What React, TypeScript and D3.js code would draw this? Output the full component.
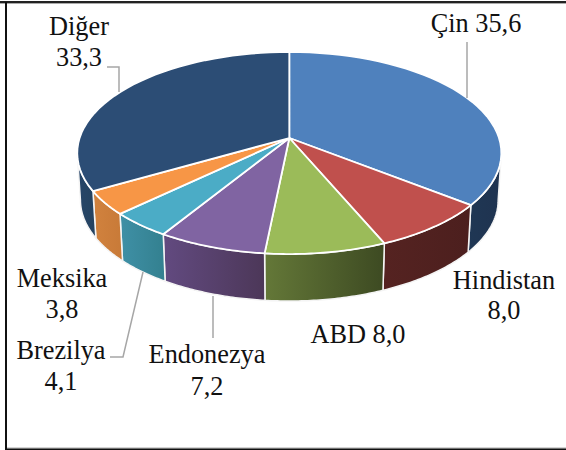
import React from "react";
import * as d3 from "d3";

const names = ["Çin", "Hindistan", "ABD", "Endonezya", "Brezilya", "Meksika", "Diğer"];
const values = [35.6, 8.0, 8.0, 7.2, 4.1, 3.8, 33.3];
const valueLabels = ["35,6", "8,0", "8,0", "7,2", "4,1", "3,8", "33,3"];
const topColors = ["#4f81bd", "#c0504d", "#9bbb59", "#8064a2", "#4bacc6", "#f79646", "#2c4d75"];
const wallFrom = ["#1f3754", "#552321", "#647838", "#624a80", "#3f90a6", "#d1823e", "#274669"];
const wallTo = ["#1f3350", "#4c1f1e", "#3d4a22", "#4c3758", "#33808f", "#c87a38", "#24425f"];

// label layout: centre x, baseline ys
const labelLayout = [
  { x: 476, ys: [32], oneLine: true },
  { x: 504, ys: [289, 319], oneLine: false },
  { x: 358, ys: [343], oneLine: true },
  { x: 207, ys: [363, 395], oneLine: false },
  { x: 61, ys: [359, 390], oneLine: false },
  { x: 62, ys: [287, 318], oneLine: false },
  { x: 79, ys: [35, 66], oneLine: false },
];
const leaders = [
  [[467, 42], [467, 98]],
  [[213, 296], [213, 338]],
  [[110, 357], [123, 357], [143, 272]],
  [[107, 67], [119, 67], [119, 92]],
];

const cx = 289.3, cy = 138, A = 209.7, B = 98.8, k = 0.1486, depth = 47, shrink = 0.985;
const tangent = Math.acos(-k);

const proj = (a: number, r = 1): [number, number] => {
  const u = r * Math.sin(a), v = -r * Math.cos(a), d = 1 - k * v;
  return [cx + (A * u) / d, cy + (B * v) / d];
};
const low = (p: [number, number]): [number, number] => [cx + (p[0] - cx) * shrink, p[1] + depth];
const samples = (a0: number, a1: number) => d3.range(0, 41).map((i) => a0 + ((a1 - a0) * i) / 40);
const line = d3.line();

export default function App() {
  const arcs = d3.pie<number>().sort(null)(values);
  return (
    <svg width={566} height={450} style={{ position: "fixed", left: 0, top: 0, background: "#fff" }}
      fontFamily="'Liberation Serif', serif" fontSize={26.3} fill="#111">
      <defs>
        {arcs.map((_, i) => (
          <linearGradient key={i} id={`w${i}`} x1="0" x2="1" y1="0" y2="0">
            <stop offset="0" stopColor={wallFrom[i]} />
            <stop offset="1" stopColor={wallTo[i]} />
          </linearGradient>
        ))}
      </defs>
      <path d="M0 2H566" stroke="#222" strokeWidth={2} fill="none" />
      <path d="M0 3.5H566" stroke="#aaa" strokeWidth={1} fill="none" />
      <path d="M6 2V450" stroke="#111" strokeWidth={2} fill="none" />
      <path d="M7 448H566" stroke="#aaa" strokeWidth={1} fill="none" />
      <path d="M5 449.3H566" stroke="#111" strokeWidth={1.5} fill="none" />
      {arcs.map((s, i) => {
        const a0 = Math.max(s.startAngle, tangent);
        const a1 = Math.min(s.endAngle, 2 * Math.PI - tangent);
        if (a1 <= a0) return null;
        const top = samples(a0, a1).map((a) => proj(a));
        const bottom = top.map(low).reverse();
        return <path key={i} d={line([...top, ...bottom])! + "Z"} fill={`url(#w${i})`} stroke="#f4f4f4" strokeWidth={1.5} strokeLinejoin="round" />;
      })}
      {arcs.map((s, i) => {
        const rim = samples(s.startAngle, s.endAngle).map((a) => proj(a));
        return <path key={i} d={line([[cx, cy], ...rim])! + "Z"} fill={topColors[i]} stroke="#fff" strokeWidth={1.8} strokeLinejoin="round" />;
      })}
      {leaders.map((l, i) => (
        <path key={i} d={line(l as [number, number][])!} fill="none" stroke="#a6a6a6" strokeWidth={1.5} />
      ))}
      {names.map((n, i) => {
        const L = labelLayout[i];
        const lines = L.oneLine ? [`${n} ${valueLabels[i]}`] : [n, valueLabels[i]];
        return lines.map((t, j) => (
          <text key={`${i}-${j}`} x={L.x} y={L.ys[j]} textAnchor="middle">{t}</text>
        ));
      })}
    </svg>
  );
}
